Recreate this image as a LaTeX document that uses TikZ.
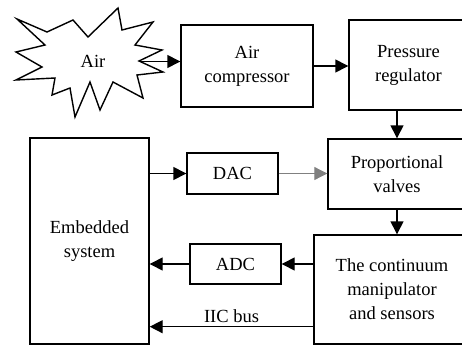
\documentclass[tikz,border=0pt]{standalone}
\usepackage{fontspec}
\setmainfont{Liberation Serif}
\usetikzlibrary{arrows.meta,calc}

\tikzset{
  blk/.style={draw, line width=1.4pt, align=center, inner sep=2pt},
  flow/.style={line width=1.4pt, -{Triangle[length=13pt,width=13pt]}},
}

\begin{document}
\begin{tikzpicture}[x=1pt,y=-1pt,font=\fontsize{18.5}{24}\selectfont]

\useasboundingbox (0,0) rectangle (462,345);
\clip (0,0) rectangle (462,345);

% air source
\draw[line width=1.4pt] (17,19) -- (47,32) -- (73,20) -- (88,37) -- (118,8) -- (122,30)
  -- (153,22) -- (135,45) -- (162,50) -- (139,61) -- (163,72) -- (137,75) -- (143,98)
  -- (113,82) -- (100,110) -- (90,82) -- (75,117) -- (70,88) -- (52,95) -- (55,78)
  -- (16,80) -- (42,67) -- (16,52) -- (45,45) -- cycle;
\node[] (air) at (93,61) {Air};
\coordinate (airout) at (139,61.5);

% top row
\node[blk, minimum width=132pt, minimum height=82pt] (comp) at (247,66) {Air\\compressor};
\node[blk, minimum width=119pt, minimum height=90pt] (preg) at (408.5,65) {Pressure\\regulator};

% right column
\node[blk, minimum width=138pt, minimum height=70pt] (valve) at (397,174) {Proportional\\valves};
\node[blk, minimum width=156pt, minimum height=109pt] (cont) at (392,289.5) {The continuum\\manipulator\\and sensors};

% controller side
\node[blk, minimum width=119pt, minimum height=206pt] (emb) at (89.5,241) {Embedded\\system};
\node[blk, minimum width=91pt, minimum height=41pt] (dac) at (232.5,173.5) {DAC};
\node[blk, minimum width=91pt, minimum height=40pt] (adc) at (235.5,264) {ADC};

\draw[flow] (airout) -- (airout -| comp.west);
\draw[flow] (comp.east) -- (comp.east -| preg.west);
\draw[flow] (valve.north |- preg.south) -- (valve.north);

\draw[flow] (emb.east |- dac.west) -- (dac.west);
\draw[flow, draw=gray, fill=black, line width=1pt] (dac.east) -- (dac.east -| valve.west);
\draw[flow] (valve.south) -- (valve.south |- cont.north);

\draw[flow] (cont.west |- adc.east) -- (adc.east);
\draw[flow] (adc.west) -- (adc.west -| emb.east);
\coordinate (iic) at ([yshift=18pt]cont.south west);
\draw[flow] (iic) -- (iic -| emb.east) node[midway, above] {IIC bus};

\end{tikzpicture}
\end{document}
